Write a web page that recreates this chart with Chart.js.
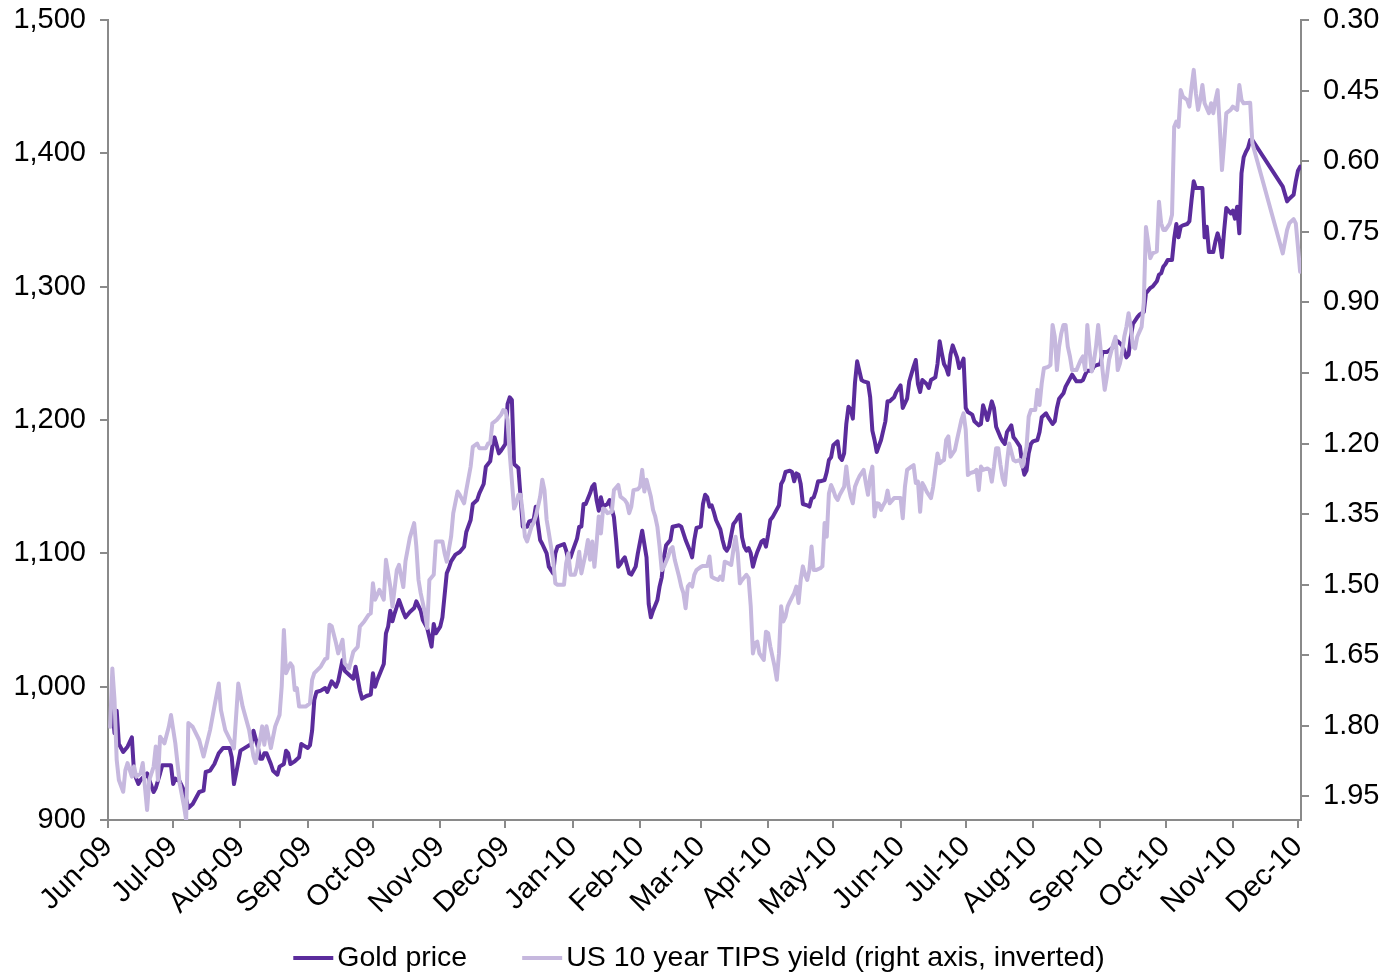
<!DOCTYPE html>
<html>
<head>
<meta charset="utf-8">
<title>Gold price vs US 10 year TIPS yield</title>
<script src="https://cdn.jsdelivr.net/npm/chart.js@4.4.1/dist/chart.umd.min.js"></script>
<style>
  html, body { margin: 0; padding: 0; background: #fff; }
  #wrap { width: 1388px; height: 976px; }
</style>
</head>
<body>
<div id="wrap"><canvas id="goldChart"></canvas></div>
<script>
// x values are days counted from 1 Jun 2009
const goldDays = [
  2, 3, 4, 5, 7, 9, 11, 12, 14, 15,
  18, 19, 21, 22, 24, 25, 29, 30, 31, 33,
  35, 37, 39, 42, 44, 45, 47, 49, 51, 53,
  56, 57, 58, 59, 61, 64, 66, 67, 69, 70,
  71, 72, 73, 75, 76, 78, 79, 81, 82, 83,
  84, 86, 88, 89, 90, 92, 93, 94, 95, 96,
  98, 100, 101, 103, 105, 106, 108, 109, 111, 113,
  114, 116, 117, 119, 121, 122, 123, 124, 127, 128,
  129, 130, 131, 132, 134, 136, 137, 139, 141, 142,
  144, 145, 147, 148, 149, 150, 151, 153, 154, 156,
  157, 158, 160, 162, 164, 165, 167, 168, 170, 171,
  173, 174, 176, 177, 178, 180, 181, 183, 184, 185,
  186, 187, 189, 190, 191, 193, 194, 196, 197, 198,
  199, 200, 202, 203, 205, 206, 207, 210, 211, 212,
  213, 214, 216, 217, 218, 219, 220, 222, 223, 224,
  225, 226, 227, 228, 230, 231, 233, 234, 235, 236,
  237, 238, 240, 241, 243, 244, 246, 248, 249, 250,
  251, 253, 254, 255, 256, 257, 259, 260, 263, 264,
  266, 268, 269, 270, 271, 273, 274, 275, 276, 277,
  278, 279, 280, 282, 283, 284, 285, 286, 288, 289,
  290, 291, 292, 293, 294, 295, 296, 297, 298, 299,
  300, 301, 302, 303, 304, 305, 306, 307, 308, 309,
  310, 311, 312, 314, 315, 316, 317, 318, 319, 320,
  322, 323, 324, 325, 326, 327, 328, 330, 331, 332,
  333, 334, 336, 337, 338, 339, 340, 341, 342, 343,
  344, 345, 347, 348, 350, 351, 352, 353, 354, 356,
  357, 358, 359, 360, 362, 363, 365, 366, 368, 369,
  371, 372, 373, 374, 375, 377, 378, 379, 381, 382,
  383, 384, 385, 386, 387, 388, 389, 391, 392, 393,
  394, 395, 396, 398, 399, 401, 402, 403, 404, 405,
  407, 408, 409, 411, 412, 413, 414, 416, 417, 418,
  420, 421, 422, 423, 424, 425, 426, 428, 429, 430,
  432, 433, 435, 436, 437, 438, 440, 441, 443, 444,
  446, 448, 449, 450, 451, 453, 454, 455, 457, 458,
  460, 461, 463, 464, 465, 467, 468, 469, 470, 471,
  472, 474, 475, 477, 478, 480, 481, 483, 484, 485,
  486, 487, 488, 490, 491, 492, 493, 494, 495, 497,
  498, 499, 500, 501, 503, 504, 505, 506, 507, 509,
  510, 511, 512, 513, 514, 515, 517, 518, 519, 520,
  521, 522, 523, 524, 525, 526, 527, 541, 543, 544,
  546, 547, 548, 549
];
const goldPrice = [
  984, 965, 982, 957, 951, 955, 962, 935, 927, 930,
  935, 930, 921, 924, 935, 941, 941, 927, 931, 929,
  922, 909, 912, 921, 922, 936, 937, 942, 950, 954,
  954, 947, 927, 935, 952, 955, 957, 967, 955, 946,
  946, 950, 950, 942, 937, 934, 940, 942, 952, 950,
  942, 944, 947, 957, 956, 954, 956, 967, 990, 996,
  997, 999, 996, 1004, 1000, 1004, 1020, 1012, 1009, 1006,
  1015, 997, 991, 993, 994, 1010, 1000, 1005, 1017, 1040,
  1045, 1057, 1049, 1055, 1065, 1056, 1052, 1056, 1059, 1064,
  1057, 1050, 1044, 1037, 1030, 1047, 1040, 1045, 1052, 1085,
  1089, 1094, 1099, 1101, 1105, 1116, 1125, 1137, 1140, 1145,
  1152, 1165, 1169, 1180, 1187, 1175, 1177, 1182, 1212, 1217,
  1215, 1167, 1164, 1142, 1120, 1120, 1124, 1125, 1135, 1122,
  1110, 1107, 1100, 1090, 1085, 1100, 1105, 1107, 1102, 1095,
  1097, 1102, 1111, 1120, 1120, 1137, 1137, 1145, 1150, 1152,
  1140, 1132, 1142, 1135, 1137, 1140, 1127, 1110, 1090, 1092,
  1095, 1097, 1085, 1084, 1090, 1100, 1117, 1097, 1062, 1052,
  1057, 1065, 1075, 1082, 1097, 1106, 1110, 1120, 1121, 1120,
  1110, 1102, 1097, 1110, 1119, 1120, 1137, 1144, 1142, 1135,
  1136, 1131, 1125, 1118, 1110, 1104, 1102, 1105, 1122, 1124,
  1127, 1129, 1112, 1105, 1102, 1104, 1100, 1090, 1096, 1101,
  1105, 1109, 1110, 1105, 1114, 1125, 1127, 1130, 1133, 1136,
  1152, 1155, 1161, 1162, 1161, 1154, 1160, 1159, 1152, 1137,
  1136, 1135, 1141, 1142, 1147, 1154, 1154, 1155, 1161, 1170,
  1172, 1181, 1184, 1172, 1170, 1175, 1197, 1210, 1208, 1201,
  1228, 1244, 1230, 1229, 1228, 1217, 1192, 1185, 1176, 1185,
  1192, 1199, 1214, 1214, 1217, 1221, 1226, 1209, 1216, 1229,
  1240, 1245, 1227, 1221, 1230, 1227, 1224, 1230, 1232, 1242,
  1259, 1250, 1242, 1239, 1234, 1249, 1256, 1247, 1239, 1242,
  1246, 1209, 1206, 1204, 1199, 1196, 1197, 1211, 1206, 1200,
  1214, 1209, 1195, 1187, 1184, 1182, 1191, 1196, 1187, 1185,
  1180, 1167, 1159, 1162, 1175, 1182, 1184, 1185, 1191, 1202,
  1205, 1202, 1197, 1199, 1209, 1216, 1220, 1225, 1231, 1234,
  1229, 1229, 1230, 1234, 1237, 1237, 1240, 1241, 1242, 1251,
  1251, 1252, 1255, 1260, 1259, 1256, 1252, 1247, 1249, 1262,
  1272, 1277, 1279, 1281, 1295, 1299, 1300, 1304, 1309, 1310,
  1315, 1317, 1320, 1320, 1336, 1347, 1337, 1345, 1346, 1347,
  1349, 1365, 1379, 1374, 1374, 1374, 1337, 1345, 1326, 1326,
  1334, 1340, 1334, 1322, 1342, 1359, 1355, 1357, 1351, 1360,
  1340, 1385, 1397, 1401, 1404, 1410, 1410, 1375, 1364, 1366,
  1369, 1379, 1387, 1390
];
const tipsDays = [
  1, 2, 3, 4, 5, 7, 8, 9, 11, 12,
  13, 15, 16, 18, 19, 21, 22, 23, 24, 26,
  28, 29, 31, 33, 35, 36, 37, 39, 42, 44,
  47, 49, 51, 52, 54, 57, 58, 60, 62, 65,
  67, 68, 69, 70, 71, 72, 73, 75, 77, 79,
  80, 81, 82, 84, 85, 86, 87, 88, 91, 93,
  94, 95, 98, 100, 101, 102, 103, 105, 106, 108,
  109, 111, 113, 115, 116, 118, 120, 121, 122, 123,
  125, 127, 128, 130, 131, 133, 134, 136, 137, 139,
  141, 142, 143, 144, 146, 147, 148, 150, 151, 154,
  155, 156, 158, 159, 161, 162, 164, 165, 167, 168,
  170, 171, 174, 175, 176, 177, 179, 181, 182, 183,
  184, 185, 187, 188, 189, 190, 191, 192, 193, 195,
  196, 197, 199, 200, 201, 202, 203, 205, 206, 207,
  210, 211, 212, 213, 215, 216, 217, 218, 220, 221,
  222, 223, 224, 225, 226, 227, 228, 229, 230, 232,
  233, 235, 236, 238, 239, 240, 241, 242, 244, 245,
  246, 247, 248, 250, 251, 252, 253, 254, 255, 256,
  258, 259, 260, 261, 263, 264, 265, 266, 267, 268,
  269, 270, 271, 273, 274, 276, 277, 278, 279, 281,
  282, 283, 284, 285, 287, 288, 289, 290, 291, 292,
  294, 295, 296, 297, 298, 299, 300, 302, 303, 304,
  305, 307, 308, 309, 310, 311, 312, 313, 314, 316,
  317, 318, 319, 320, 321, 322, 323, 324, 325, 326,
  328, 329, 330, 331, 332, 333, 334, 335, 336, 337,
  339, 340, 341, 342, 343, 344, 345, 346, 348, 349,
  350, 351, 352, 353, 354, 355, 356, 357, 358, 359,
  360, 362, 364, 365, 366, 367, 368, 370, 371, 372,
  373, 374, 375, 376, 377, 379, 380, 381, 382, 383,
  384, 385, 386, 387, 388, 390, 391, 392, 393, 394,
  395, 396, 397, 399, 400, 401, 402, 403, 405, 406,
  407, 408, 409, 410, 411, 412, 413, 414, 415, 417,
  418, 420, 421, 422, 423, 424, 425, 427, 428, 429,
  430, 431, 433, 434, 435, 436, 437, 438, 439, 440,
  441, 442, 443, 444, 446, 448, 449, 450, 451, 452,
  453, 454, 455, 456, 457, 458, 459, 460, 461, 463,
  464, 465, 466, 467, 468, 469, 470, 471, 472, 473,
  474, 476, 477, 478, 480, 481, 483, 484, 485, 486,
  487, 489, 490, 491, 492, 493, 494, 495, 497, 498,
  499, 500, 501, 502, 503, 504, 505, 507, 508, 509,
  510, 511, 512, 513, 514, 515, 517, 518, 520, 521,
  522, 523, 526, 527, 541, 543, 544, 546, 547, 548,
  549
];
const tipsYield = [
  1.802, 1.678, 1.745, 1.872, 1.915, 1.94, 1.894, 1.879, 1.908, 1.886,
  1.908, 1.901, 1.879, 1.979, 1.915, 1.887, 1.844, 1.915, 1.823, 1.837,
  1.802, 1.777, 1.837, 1.922, 1.971, 2.0, 1.794, 1.802, 1.83, 1.865,
  1.809, 1.759, 1.71, 1.766, 1.809, 1.837, 1.848, 1.71, 1.759, 1.809,
  1.865, 1.879, 1.85, 1.83, 1.801, 1.84, 1.801, 1.847, 1.801, 1.777,
  1.716, 1.596, 1.688, 1.667, 1.674, 1.724, 1.72, 1.759, 1.759, 1.752,
  1.702, 1.688, 1.674, 1.658, 1.656, 1.585, 1.588, 1.624, 1.646, 1.617,
  1.667, 1.678, 1.642, 1.632, 1.589, 1.578, 1.564, 1.561, 1.497, 1.532,
  1.511, 1.532, 1.447, 1.504, 1.547, 1.469, 1.458, 1.505, 1.45, 1.40,
  1.369, 1.419, 1.49, 1.518, 1.561, 1.592, 1.49, 1.479, 1.408, 1.408,
  1.433, 1.451, 1.398, 1.348, 1.302, 1.309, 1.327, 1.299, 1.249, 1.207,
  1.20, 1.21, 1.21, 1.20, 1.20, 1.157, 1.15, 1.139, 1.129, 1.13,
  1.15, 1.221, 1.338, 1.327, 1.309, 1.309, 1.348, 1.398, 1.408, 1.377,
  1.369, 1.355, 1.313, 1.277, 1.299, 1.362, 1.39, 1.447, 1.497, 1.50,
  1.50, 1.454, 1.433, 1.479, 1.479, 1.462, 1.43, 1.476, 1.433, 1.405,
  1.447, 1.408, 1.462, 1.412, 1.355, 1.391, 1.338, 1.341, 1.348, 1.345,
  1.299, 1.288, 1.313, 1.32, 1.327, 1.348, 1.334, 1.299, 1.297, 1.292,
  1.256, 1.302, 1.277, 1.313, 1.341, 1.355, 1.377, 1.419, 1.469, 1.462,
  1.44, 1.425, 1.42, 1.447, 1.483, 1.504, 1.518, 1.55, 1.504, 1.498,
  1.504, 1.479, 1.469, 1.462, 1.46, 1.46, 1.44, 1.483, 1.486, 1.49,
  1.483, 1.49, 1.451, 1.453, 1.458, 1.426, 1.398, 1.433, 1.497, 1.49,
  1.479, 1.486, 1.546, 1.646, 1.624, 1.621, 1.646, 1.66, 1.60, 1.603,
  1.631, 1.674, 1.702, 1.646, 1.546, 1.578, 1.568, 1.546, 1.536, 1.518,
  1.504, 1.539, 1.49, 1.461, 1.479, 1.49, 1.469, 1.419, 1.469, 1.469,
  1.465, 1.461, 1.369, 1.398, 1.306, 1.288, 1.299, 1.313, 1.32, 1.309,
  1.292, 1.249, 1.29, 1.313, 1.327, 1.292, 1.28, 1.27, 1.256, 1.284,
  1.309, 1.27, 1.249, 1.355, 1.327, 1.328, 1.341, 1.331, 1.323, 1.30,
  1.327, 1.316, 1.316, 1.316, 1.359, 1.292, 1.256, 1.249, 1.246, 1.284,
  1.281, 1.345, 1.284, 1.292, 1.302, 1.316, 1.292, 1.256, 1.221, 1.242,
  1.238, 1.235, 1.192, 1.185, 1.228, 1.214, 1.192, 1.171, 1.15, 1.136,
  1.171, 1.267, 1.263, 1.26, 1.256, 1.299, 1.249, 1.256, 1.253, 1.256,
  1.281, 1.249, 1.21, 1.21, 1.245, 1.274, 1.288, 1.24, 1.20, 1.235,
  1.238, 1.235, 1.249, 1.228, 1.207, 1.143, 1.129, 1.129, 1.086, 1.118,
  1.072, 1.04, 1.037, 1.033, 0.948, 0.973, 1.044, 0.994, 0.966, 0.948,
  0.948, 0.994, 1.015, 1.044, 1.044, 1.022, 1.015, 1.044, 0.948, 1.001,
  1.047, 1.026, 0.994, 0.948, 0.994, 1.044, 1.086, 1.058, 1.022, 0.987,
  0.973, 1.044, 1.03, 1.008, 0.973, 0.952, 0.923, 0.952, 0.994, 0.998,
  0.973, 0.952, 0.90, 0.74, 0.806, 0.796, 0.792, 0.686, 0.732, 0.746,
  0.746, 0.732, 0.714, 0.527, 0.516, 0.527, 0.449, 0.463, 0.47, 0.484,
  0.442, 0.406, 0.456, 0.491, 0.47, 0.438, 0.477, 0.498, 0.477, 0.498,
  0.47, 0.449, 0.527, 0.619, 0.562, 0.498, 0.491, 0.484, 0.491, 0.438,
  0.47, 0.477, 0.476, 0.562, 0.796, 0.746, 0.732, 0.723, 0.732, 0.782,
  0.835
];

// month starts (days from 1 Jun 2009) and their labels
const monthDays = [0, 30, 61, 92, 122, 153, 183, 214, 245, 273, 304, 334, 365, 395, 426, 457, 487, 518, 548];
const monthLabels = ['Jun-09', 'Jul-09', 'Aug-09', 'Sep-09', 'Oct-09', 'Nov-09', 'Dec-09',
  'Jan-10', 'Feb-10', 'Mar-10', 'Apr-10', 'May-10', 'Jun-10', 'Jul-10', 'Aug-10',
  'Sep-10', 'Oct-10', 'Nov-10', 'Dec-10'];
const goldTicks = [900, 1000, 1100, 1200, 1300, 1400, 1500];
const tipsTicks = [0.30, 0.45, 0.60, 0.75, 0.90, 1.05, 1.20, 1.35, 1.50, 1.65, 1.80, 1.95];

const goldColor = '#5b2c9c';
const tipsColor = '#c6b8de';
const axisGrey = '#8a8a8a';
const fontFamily = "'Liberation Sans', Arial, sans-serif";
const tickFont = { family: fontFamily, size: 29 };
const legendSize = 28.5;

const axisLine = { color: axisGrey, width: 2 };
const tickMarks = { drawOnChartArea: false, drawTicks: true, tickLength: 8, color: axisGrey, lineWidth: 2 };

// legend drawn by hand: short line, small gap, label
const lineLegend = {
  id: 'lineLegend',
  afterDraw(chart) {
    const c = chart.ctx;
    const sets = chart.data.datasets;
    const lineLen = 40, textGap = 4, itemGap = 55, y = 958;
    c.save();
    c.font = legendSize + 'px ' + fontFamily;
    c.textBaseline = 'middle';
    const widths = sets.map(ds => c.measureText(ds.label).width);
    const total = widths.reduce((s, w) => s + lineLen + textGap + w, 0) + itemGap * (sets.length - 1);
    let x = chart.width / 2 + 5 - total / 2;
    sets.forEach((ds, i) => {
      c.strokeStyle = ds.borderColor;
      c.lineWidth = 4;
      c.beginPath();
      c.moveTo(x, y);
      c.lineTo(x + lineLen, y);
      c.stroke();
      c.fillStyle = '#000';
      c.fillText(ds.label, x + lineLen + textGap, y);
      x += lineLen + textGap + widths[i] + itemGap;
    });
    c.restore();
  }
};

const ctx = document.getElementById('goldChart').getContext('2d');
new Chart(ctx, {
  type: 'line',
  data: {
    datasets: [{
      label: 'Gold price',
      data: goldDays.map((d, i) => ({ x: d, y: goldPrice[i] })),
      yAxisID: 'y',
      borderColor: goldColor,
      backgroundColor: goldColor,
      borderWidth: 4,
      pointRadius: 0,
      tension: 0,
      borderJoinStyle: 'round',
      borderCapStyle: 'round',
      order: 1
    }, {
      label: 'US 10 year TIPS yield (right axis, inverted)',
      data: tipsDays.map((d, i) => ({ x: d, y: tipsYield[i] })),
      yAxisID: 'y1',
      borderColor: tipsColor,
      backgroundColor: tipsColor,
      borderWidth: 4,
      pointRadius: 0,
      tension: 0,
      borderJoinStyle: 'round',
      borderCapStyle: 'round',
      order: 0
    }]
  },
  options: {
    responsive: true,
    maintainAspectRatio: false,
    animation: false,
    layout: { padding: { top: 20, left: 0, right: 0, bottom: 0 } },
    plugins: {
      tooltip: { enabled: false },
      legend: { display: false }
    },
    scales: {
      x: {
        type: 'linear',
        min: 0,
        max: 549.4,
        afterBuildTicks: (s) => { s.ticks = monthDays.map(v => ({ value: v })); },
        ticks: {
          autoSkip: false,
          minRotation: 45,
          maxRotation: 45,
          padding: 2,
          color: '#000',
          font: tickFont,
          callback: (v, i) => monthLabels[i]
        },
        grid: tickMarks,
        border: axisLine,
        afterFit: (s) => { s.height = 156; }
      },
      y: {
        position: 'left',
        min: 900,
        max: 1500,
        afterBuildTicks: (s) => { s.ticks = goldTicks.map(v => ({ value: v })); },
        ticks: {
          padding: 14,
          color: '#000',
          font: tickFont,
          callback: (v) => v.toLocaleString('en-US')
        },
        grid: tickMarks,
        border: axisLine,
        afterFit: (s) => { s.width = 108; s.paddingTop = 0; s.paddingBottom = 0; }
      },
      y1: {
        position: 'right',
        reverse: true,
        min: 0.30,
        max: 2.00,
        afterBuildTicks: (s) => { s.ticks = tipsTicks.map(v => ({ value: v })); },
        ticks: {
          padding: 14,
          color: '#000',
          font: tickFont,
          callback: (v) => v.toFixed(2)
        },
        grid: tickMarks,
        border: axisLine,
        afterFit: (s) => { s.width = 87; s.paddingTop = 0; s.paddingBottom = 0; }
      }
    }
  },
  plugins: [lineLegend]
});
</script>
</body>
</html>
